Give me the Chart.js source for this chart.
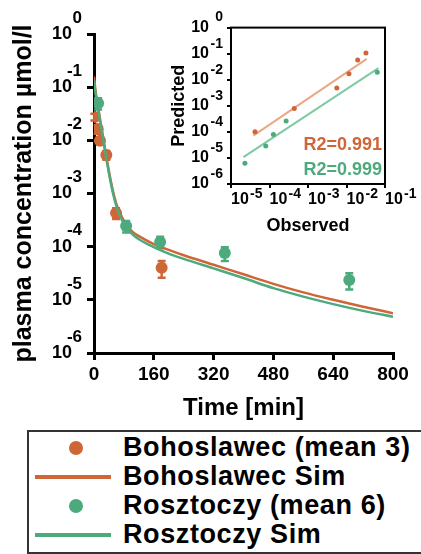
<!DOCTYPE html>
<html>
<head>
<meta charset="utf-8">
<script src="https://cdn.jsdelivr.net/npm/chart.js@4.4.0/dist/chart.umd.min.js"></script>
<style>
  html, body { margin: 0; padding: 0; background: #fff; overflow: hidden; width: 421px; height: 554px; }
  #main { position: absolute; left: 0; top: 0; }
  #inset { position: absolute; left: 160px; top: 0; }
  #legend {
    position: absolute; left: 27px; top: 430px; width: 430px; height: 124px;
    border: 2.5px solid #333; box-sizing: border-box;
    font-family: "Liberation Sans", Arial, sans-serif; font-weight: bold; font-size: 27px; letter-spacing: 0.6px;
  }
  .row { position: absolute; left: 0; height: 29px; line-height: 29px; white-space: nowrap; }
  .dot { position: absolute; left: 40px; top: 8px; width: 14px; height: 14px; border-radius: 50%; }
  .line { position: absolute; left: 6px; top: 13px; width: 76px; height: 4px; }
  .txt { position: absolute; left: 94px; top: 0; color: #000; }
</style>
</head>
<body>
<canvas id="main" width="421" height="425"></canvas>
<canvas id="inset" width="261" height="240"></canvas>
<div id="legend"></div>
<script>
// simulated curves (min, umol/l)
const simTime = [0, 3, 5, 10, 15, 20, 30, 40, 50, 60, 75, 90, 105, 120, 160, 200, 240, 320, 400, 480, 560, 640, 720, 800];
const bohoSim = [0.158, 0.100, 0.0759, 0.0468, 0.0282, 0.0174, 0.00661, 0.00263, 0.00117, 6.31e-4, 3.55e-4, 2.40e-4,
  1.86e-4, 1.58e-4, 1.12e-4, 8.7e-5, 6.9e-5, 4.57e-5, 3.02e-5, 2.0e-5, 1.38e-5, 1.0e-5, 7.4e-6, 5.6e-6];
const roszSim = [0.132, 0.0891, 0.0692, 0.0427, 0.0263, 0.0162, 0.00603, 0.0024, 0.00107, 5.75e-4, 3.16e-4, 2.14e-4,
  1.66e-4, 1.38e-4, 9.8e-5, 7.4e-5, 5.9e-5, 3.9e-5, 2.57e-5, 1.66e-5, 1.15e-5, 8.3e-6, 6.2e-6, 4.8e-6];

// observed means with sd
const bohoTime = [1, 10, 16, 33, 59, 181];
const bohoObs = [0.0275, 0.0163, 0.0098, 0.0053, 4.3e-4, 4.0e-5];
const bohoSd = [0.004, 0.003, 0.0015, 0.001, 1.0e-4, 1.4e-5];
const roszTime = [11, 86, 177, 350, 683];
const roszObs = [0.05, 2.45e-4, 1.23e-4, 7.6e-5, 2.36e-5];
const roszSd = [0.012, 6e-5, 3e-5, 2.2e-5, 8e-6];

// inset: observed vs predicted
const bohoObsIn = [4.2e-5, 4.4e-4, 5.6e-3, 0.0116, 0.0195, 0.032];
const bohoPredIn = [1.0e-4, 7.8e-4, 4.8e-3, 0.0168, 0.057, 0.105];
const roszObsIn = [2.3e-5, 8.0e-5, 1.26e-4, 2.7e-4, 0.063];
const roszPredIn = [6.3e-6, 2.9e-5, 8.0e-5, 2.6e-4, 0.0194];
const bohoFitX = [3.8e-5, 0.0335];
const bohoFitY = [7.2e-5, 0.063];
const roszFitX = [2.1e-5, 0.0676];
const roszFitY = [1.07e-5, 0.028];
const bohoR2 = 'R2=0.991';
const roszR2 = 'R2=0.999';

const timeTicks = [0, 160, 320, 480, 640, 800];
const concTicks = [1, 0.1, 0.01, 1e-3, 1e-4, 1e-5, 1e-6];
const obsTicks = [1e-5, 1e-4, 1e-3, 1e-2, 1e-1];

const ORANGE = '#cf6637';
const GREEN = '#4caa7d';
const FONT = '"Liberation Sans", Arial, sans-serif';
Chart.defaults.font.family = FONT;
Chart.defaults.color = '#000';

const xy = (xs, ys) => xs.map((x, i) => ({x: x, y: ys[i]}));
const setTicks = vals => s => { s.ticks = vals.map(v => ({value: v})); };

const errorBars = {
  id: 'errorBars',
  beforeDatasetsDraw(chart) {
    const {ctx, scales: {x, y}} = chart;
    chart.data.datasets.forEach(ds => {
      if (!ds.sd) return;
      ctx.save();
      ctx.strokeStyle = ds.backgroundColor;
      ctx.lineWidth = 2.5;
      ds.data.forEach((p, i) => {
        const px = x.getPixelForValue(p.x);
        const hi = y.getPixelForValue(p.y + ds.sd[i]);
        const lo = y.getPixelForValue(Math.max(p.y - ds.sd[i], 1e-9));
        ctx.beginPath();
        ctx.moveTo(px, hi); ctx.lineTo(px, lo);
        ctx.moveTo(px - 4, hi); ctx.lineTo(px + 4, hi);
        ctx.moveTo(px - 4, lo); ctx.lineTo(px + 4, lo);
        ctx.stroke();
      });
      ctx.restore();
    });
  }
};

// exponents of the "10" tick labels
const powers = {
  id: 'powers',
  afterDraw(chart, args, o) {
    const ctx = chart.ctx;
    ctx.save();
    ctx.fillStyle = '#000';
    ctx.textBaseline = 'middle';
    if (o.y) {
      const s = chart.scales.y;
      ctx.font = 'bold ' + o.y.size + 'px ' + FONT;
      ctx.textAlign = 'right';
      s.ticks.forEach(t => ctx.fillText(String(Math.round(Math.log10(t.value))), o.y.x, s.getPixelForValue(t.value) + o.y.dy));
    }
    if (o.x) {
      const s = chart.scales.x;
      ctx.font = 'bold ' + o.x.size + 'px ' + FONT;
      ctx.textAlign = 'left';
      s.ticks.forEach(t => ctx.fillText(String(Math.round(Math.log10(t.value))), s.getPixelForValue(t.value) + o.x.dx, o.x.y));
    }
    ctx.restore();
  }
};

const mainChart = new Chart(document.getElementById('main'), {
  type: 'scatter',
  data: {
    datasets: [
      {label: 'Rosztoczy (mean 6)', data: xy(roszTime, roszObs), sd: roszSd, backgroundColor: GREEN, borderColor: GREEN,
        pointRadius: 6, pointBorderWidth: 0, order: 0, legendKind: 'dot'},
      {label: 'Rosztoczy Sim', data: xy(simTime, roszSim), showLine: true, borderColor: GREEN, backgroundColor: GREEN,
        borderWidth: 2.5, pointRadius: 0, cubicInterpolationMode: 'monotone', order: 1, legendKind: 'line'},
      {label: 'Bohoslawec Sim', data: xy(simTime, bohoSim), showLine: true, borderColor: ORANGE, backgroundColor: ORANGE,
        borderWidth: 2.5, pointRadius: 0, cubicInterpolationMode: 'monotone', order: 2, legendKind: 'line'},
      {label: 'Bohoslawec (mean 3)', data: xy(bohoTime, bohoObs), sd: bohoSd, backgroundColor: ORANGE, borderColor: ORANGE,
        pointRadius: 6, pointBorderWidth: 0, order: 3, legendKind: 'dot'}
    ]
  },
  options: {
    responsive: false,
    animation: false,
    layout: {padding: {left: 0, right: 28, top: 34, bottom: 0}},
    plugins: {
      legend: {display: false},
      tooltip: {enabled: false},
      powers: {y: {size: 17, x: 82, dy: -16}}
    },
    scales: {
      x: {
        type: 'linear', min: 0, max: 800,
        afterBuildTicks: setTicks(timeTicks),
        afterFit: s => { s.height = 72; },
        border: {color: '#000', width: 3},
        grid: {drawOnChartArea: false, color: '#000', lineWidth: 3, tickLength: 7},
        ticks: {color: '#000', font: {size: 19, weight: 'bold'}, padding: 3, maxRotation: 0},
        title: {display: true, text: 'Time [min]', color: '#000', font: {size: 24, weight: 'bold'}, padding: {top: 0, bottom: 2}}
      },
      y: {
        type: 'logarithmic', min: 1e-6, max: 1,
        afterBuildTicks: setTicks(concTicks),
        afterFit: s => { s.width = 94; },
        border: {color: '#000', width: 3},
        grid: {drawOnChartArea: false, color: '#000', lineWidth: 3, tickLength: 7},
        ticks: {color: '#000', font: {size: 18, weight: 'bold'}, padding: 15, callback: () => '10'},
        title: {display: true, text: 'plasma concentration µmol/l', color: '#000', font: {size: 25, weight: 'bold'}, padding: {top: 9, bottom: 0}}
      }
    }
  },
  plugins: [errorBars, powers]
});

const insetExtras = {
  id: 'insetExtras',
  afterDraw(chart) {
    const {ctx, chartArea: a} = chart;
    ctx.save();
    ctx.strokeStyle = '#000';
    ctx.lineWidth = 2;
    ctx.strokeRect(a.left, a.top, a.right - a.left, a.bottom - a.top);
    ctx.font = 'bold 18px ' + FONT;
    ctx.textAlign = 'right';
    ctx.textBaseline = 'middle';
    ctx.fillStyle = ORANGE;
    ctx.fillText(bohoR2, a.right - 3, 145);
    ctx.fillStyle = GREEN;
    ctx.fillText(roszR2, a.right - 3, 170);
    ctx.restore();
  }
};

new Chart(document.getElementById('inset'), {
  type: 'scatter',
  data: {
    datasets: [
      {data: xy(bohoObsIn, bohoPredIn), backgroundColor: ORANGE, pointRadius: 2.5, pointBorderWidth: 0},
      {data: xy(bohoFitX, bohoFitY), showLine: true, borderColor: '#eba787', borderWidth: 2, pointRadius: 0},
      {data: xy(roszObsIn, roszPredIn), backgroundColor: GREEN, pointRadius: 2.5, pointBorderWidth: 0},
      {data: xy(roszFitX, roszFitY), showLine: true, borderColor: '#7dcaa5', borderWidth: 2, pointRadius: 0}
    ]
  },
  options: {
    responsive: false,
    animation: false,
    layout: {padding: {left: 0, right: 36, top: 25, bottom: 0}},
    plugins: {
      legend: {display: false},
      tooltip: {enabled: false},
      powers: {y: {size: 14, x: 63, dy: -10}, x: {size: 14, dx: 19, y: 194}}
    },
    scales: {
      x: {
        type: 'logarithmic', min: 1e-5, max: 1e-1,
        afterBuildTicks: setTicks(obsTicks),
        afterFit: s => { s.height = 56; },
        border: {color: '#000', width: 2},
        grid: {drawOnChartArea: false, color: '#000', lineWidth: 2, tickLength: 4},
        ticks: {color: '#000', font: {size: 16, weight: 'bold'}, padding: 2, align: 'start', maxRotation: 0, autoSkip: false, callback: () => '10'},
        title: {display: true, text: 'Observed', color: '#000', font: {size: 18, weight: 'bold'}, padding: {top: 0, bottom: 3}}
      },
      y: {
        type: 'logarithmic', min: 1e-6, max: 1,
        afterBuildTicks: setTicks(concTicks),
        afterFit: s => { s.width = 71; },
        border: {color: '#000', width: 2},
        grid: {drawOnChartArea: false, color: '#000', lineWidth: 2, tickLength: 4},
        ticks: {color: '#000', font: {size: 16, weight: 'bold'}, padding: 18, autoSkip: false, callback: () => '10'},
        title: {display: true, text: 'Predicted', color: '#000', font: {size: 18, weight: 'bold'}, padding: {top: 8, bottom: 0}}
      }
    }
  },
  plugins: [powers, insetExtras]
});

// legend box below the plot, in the order of the original
const legendOrder = ['Bohoslawec (mean 3)', 'Bohoslawec Sim', 'Rosztoczy (mean 6)', 'Rosztoczy Sim'];
const legendEl = document.getElementById('legend');
legendOrder.forEach((name, i) => {
  const ds = mainChart.data.datasets.find(d => d.label === name);
  const row = document.createElement('div');
  row.className = 'row';
  row.style.top = (1 + i * 29) + 'px';
  row.style.width = '420px';
  const mark = document.createElement('div');
  mark.className = ds.legendKind;
  mark.style.background = ds.backgroundColor;
  const txt = document.createElement('span');
  txt.className = 'txt';
  txt.textContent = name;
  row.appendChild(mark);
  row.appendChild(txt);
  legendEl.appendChild(row);
});
</script>
</body>
</html>
